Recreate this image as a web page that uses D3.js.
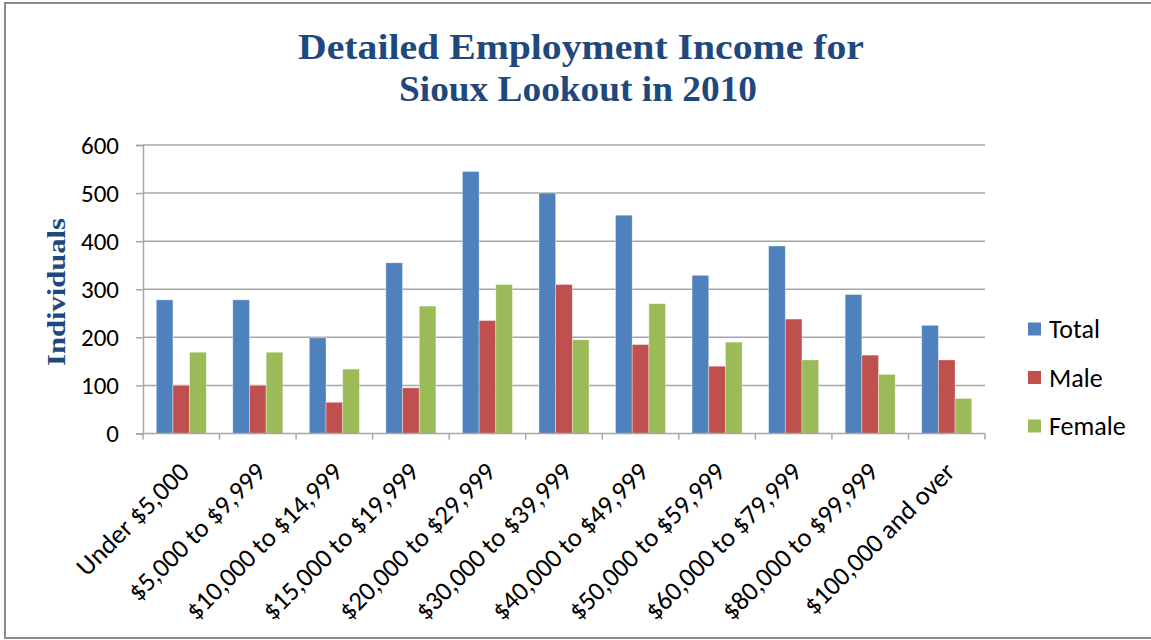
<!DOCTYPE html>
<html><head><meta charset="utf-8">
<script src="https://cdn.jsdelivr.net/npm/d3@7"></script>
<style>body{margin:0;background:#fff;} svg{display:block;}</style>
</head><body>
<script>
const categories = ["Under $5,000","$5,000 to $9,999","$10,000 to $14,999","$15,000 to $19,999","$20,000 to $29,999","$30,000 to $39,999","$40,000 to $49,999","$50,000 to $59,999","$60,000 to $79,999","$80,000 to $99,999","$100,000 and over"];
const seriesNames = ["Total","Male","Female"];
const totalValues = [278,278,199,355,545,500,454,329,390,289,225];
const maleValues = [100,100,65,95,235,310,185,140,238,163,153];
const femaleValues = [169,169,134,265,310,195,270,190,153,123,73];
const yTicks = [0,100,200,300,400,500,600];
const colors = ["#4F81BD","#C0504D","#9BBB59"];
const series = [totalValues, maleValues, femaleValues];

(function(){
const W = 1151, H = 640;
const svg = d3.select("body").append("svg").attr("width", W).attr("height", H);
svg.append("rect").attr("width", W).attr("height", H).attr("fill", "#fff");
// chart border
svg.append("rect").attr("x", 5).attr("y", 3).attr("width", 1160).attr("height", 635)
  .attr("fill", "none").attr("stroke", "#8c8c8c").attr("stroke-width", 2);

const pL = 143, pR = 985, pT = 145, pB = 433.5;
const x = d3.scaleBand().domain(categories).range([pL, pR]).padding(0);
const y = d3.scaleLinear().domain([0, 600]).range([pB, pT]);
const groupW = x.bandwidth() * 0.654;
const inner = d3.scaleBand().domain(seriesNames).range([0, groupW]).padding(0);
const groupOffset = (x.bandwidth() - groupW) / 2;

const tickFont = "Carlito, Lato, 'Liberation Sans', sans-serif";

// gridlines
svg.append("g").selectAll("line").data(yTicks.filter(d => d > 0)).join("line")
  .attr("x1", pL).attr("x2", pR).attr("y1", d => y(d)).attr("y2", d => y(d))
  .attr("stroke", "#a6a6a6").attr("stroke-width", 1.5);

// y axis
const yAxis = svg.append("g").attr("transform", `translate(${pL},0)`)
  .call(d3.axisLeft(y).tickValues(yTicks).tickSize(7).tickPadding(17));
yAxis.select(".domain").attr("stroke", "#a6a6a6").attr("stroke-width", 1.5);
yAxis.selectAll(".tick line").attr("stroke", "#a6a6a6").attr("stroke-width", 1.5);
yAxis.selectAll("text").attr("font-family", tickFont).attr("font-size", 25).attr("fill", "#000");

// bars
series.forEach((vals, si) => {
  svg.append("g").selectAll("rect").data(vals).join("rect")
    .attr("x", (d, i) => x(categories[i]) + groupOffset + inner(seriesNames[si]))
    .attr("y", d => y(d))
    .attr("width", inner.bandwidth())
    .attr("height", d => y(0) - y(d))
    .attr("fill", colors[si])
    .attr("stroke", "rgba(255,255,255,0.45)").attr("stroke-width", 0.8);
});

// x axis
const xAxisG = svg.append("g").attr("transform", `translate(0,${pB})`);
xAxisG.append("line").attr("x1", pL).attr("x2", pR).attr("stroke", "#a6a6a6").attr("stroke-width", 1.5);
const bounds = categories.map(c => x(c)).concat([pR]);
xAxisG.selectAll("line.tk").data(bounds).join("line").attr("class", "tk")
  .attr("x1", d => d).attr("x2", d => d).attr("y1", 0).attr("y2", 6)
  .attr("stroke", "#a6a6a6").attr("stroke-width", 1.5);
svg.append("g").selectAll("text").data(categories).join("text")
  .attr("transform", d => `translate(${x(d) + x.bandwidth() / 2 + 3},${467}) rotate(-45)`)
  .attr("text-anchor", "end").attr("dy", "0.35em")
  .attr("font-family", tickFont).attr("font-size", 26.5).attr("fill", "#000")
  .text(d => d);

// title
const titleFont = "'Liberation Serif', 'DejaVu Serif', serif";
const title = svg.append("g")
  .attr("font-family", titleFont).attr("font-weight", "bold").attr("font-size", 36).attr("fill", "#1F497D");
title.append("text").attr("x", 581).attr("y", 59).attr("text-anchor", "middle")
  .attr("textLength", 566).attr("lengthAdjust", "spacingAndGlyphs").text("Detailed Employment Income for");
title.append("text").attr("x", 578).attr("y", 101).attr("text-anchor", "middle")
  .attr("textLength", 358).attr("lengthAdjust", "spacingAndGlyphs").text("Sioux Lookout in 2010");

// y axis title
svg.append("text").attr("transform", `translate(65,292) rotate(-90)`).attr("text-anchor", "middle")
  .attr("font-family", titleFont).attr("font-weight", "bold").attr("font-size", 26).attr("fill", "#1F497D")
  .attr("textLength", 148).attr("lengthAdjust", "spacingAndGlyphs")
  .text("Individuals");

// legend
const lg = svg.append("g");
seriesNames.forEach((s, i) => {
  const cy = 329 + i * 48.5;
  lg.append("rect").attr("x", 1028).attr("y", cy - 6.5).attr("width", 13).attr("height", 13).attr("fill", colors[i]);
  lg.append("text").attr("x", 1049).attr("y", cy).attr("dy", "0.36em")
    .attr("font-family", tickFont).attr("font-size", 26).attr("fill", "#000").text(s);
});
})();
</script>
</body></html>
